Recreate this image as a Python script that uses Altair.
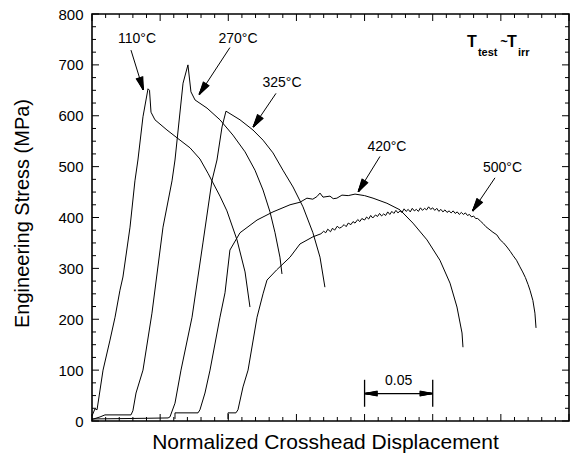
import math
import altair as alt
import pandas as pd

# ---------------- data ----------------
x_110 = [0.0000, 0.0022, 0.0037, 0.0081, 0.0132, 0.0169, 0.0205, 0.0227, 0.0279, 0.0315,
         0.0337, 0.0374, 0.0411, 0.0422, 0.0433, 0.0462, 0.0550, 0.0646, 0.0719, 0.0792,
         0.0851, 0.0888, 0.0939, 0.0990, 0.1064, 0.1123, 0.1159]
y_110 = [10, 24, 22, 100, 159, 204, 257, 283, 381, 472,
         513, 598, 653, 650, 607, 592, 572, 552, 537, 515,
         487, 468, 442, 413, 356, 293, 224]

x_270 = [0.0000, 0.0059, 0.0095, 0.0286, 0.0300, 0.0323, 0.0374, 0.0440, 0.0521, 0.0587,
         0.0609, 0.0668, 0.0704, 0.0726, 0.0756, 0.0844, 0.0939, 0.1034, 0.1123, 0.1196,
         0.1255, 0.1306, 0.1343, 0.1379, 0.1394]
y_270 = [3, 8, 12, 12, 20, 55, 100, 212, 381, 472,
         513, 664, 700, 647, 631, 615, 592, 562, 529, 493,
         454, 411, 370, 322, 289]

x_325 = [0.0000, 0.0300, 0.0558, 0.0572, 0.0609, 0.0653, 0.0734, 0.0814, 0.0880, 0.0917,
         0.0954, 0.0983, 0.1086, 0.1181, 0.1255, 0.1328, 0.1401, 0.1475, 0.1548, 0.1621,
         0.1673, 0.1709]
y_325 = [4, 5, 6, 8, 35, 100, 204, 350, 472, 513,
         578, 609, 592, 572, 552, 527, 493, 460, 421, 370,
         322, 263]

x_420 = [0.0609, 0.0609, 0.0778, 0.0792, 0.0829, 0.0866, 0.0939, 0.0976, 0.1012, 0.1086,
         0.1211, 0.1328, 0.1453, 0.1526, 0.1577, 0.1620, 0.1650, 0.1673, 0.1695, 0.1746,
         0.1770, 0.1797, 0.1834, 0.1880, 0.1930, 0.2000, 0.2062, 0.2164, 0.2260, 0.2355,
         0.2458, 0.2553, 0.2627, 0.2678, 0.2715, 0.2722]
y_420 = [4, 16, 16, 22, 55, 100, 204, 252, 336, 370,
         395, 411, 425, 430, 438, 436, 441, 448, 440, 442,
         437, 438, 444, 443, 446, 443, 438, 428, 415, 389,
         356, 316, 271, 224, 173, 145]

x_500 = [0.0998, 0.0998, 0.1056, 0.1071, 0.1108, 0.1145, 0.1211, 0.1255, 0.1284, 0.1355,
         0.1453, 0.1526, 0.1621, 0.1680, 0.1700, 0.1715, 0.1730, 0.1750, 0.1765, 0.1780,
         0.1800, 0.1815, 0.1830, 0.1850, 0.1865, 0.1880, 0.1900, 0.1915, 0.1930, 0.1950,
         0.1965, 0.1980, 0.2000, 0.2015, 0.2030, 0.2045, 0.2060, 0.2080, 0.2095, 0.2110,
         0.2125, 0.2140, 0.2155, 0.2170, 0.2185, 0.2200, 0.2215, 0.2230, 0.2245, 0.2260,
         0.2275, 0.2290, 0.2305, 0.2320, 0.2335, 0.2350, 0.2365, 0.2380, 0.2395, 0.2410,
         0.2425, 0.2440, 0.2455, 0.2470, 0.2485, 0.2500, 0.2515, 0.2530, 0.2545, 0.2560,
         0.2575, 0.2590, 0.2605, 0.2620, 0.2635, 0.2650, 0.2665, 0.2680, 0.2695, 0.2710,
         0.2725, 0.2740, 0.2755, 0.2770, 0.2785, 0.2800, 0.2815, 0.2830, 0.2850, 0.2870,
         0.2890, 0.2942, 0.2970, 0.2995, 0.3020, 0.3045, 0.3070, 0.3090, 0.3115, 0.3140,
         0.3160, 0.3180, 0.3200, 0.3214, 0.3235, 0.3250, 0.3258]
y_500 = [4, 16, 16, 22, 67, 100, 204, 250, 277, 297,
         322, 348, 362, 368, 373, 370, 377, 372, 379, 375,
         383, 379, 381, 386, 382, 389, 386, 392, 389, 396,
         392, 398, 395, 401, 397, 404, 399, 405, 402, 408,
         403, 407, 404, 411, 406, 412, 408, 414, 409, 413,
         410, 417, 412, 416, 411, 418, 413, 416, 412, 419,
         414, 418, 415, 421, 416, 419, 414, 418, 412, 416,
         411, 415, 410, 413, 409, 413, 408, 411, 406, 410,
         406, 409, 404, 406, 401, 403, 398, 398, 393, 388,
         382, 371, 366, 356, 350, 342, 333, 325, 316, 303,
         293, 282, 268, 257, 237, 212, 183]

temps = ["110°C", "270°C", "325°C", "420°C", "500°C"]
series_x = [x_110, x_270, x_325, x_420, x_500]
series_y = [y_110, y_270, y_325, y_420, y_500]

# annotation labels (data coordinates) and arrows (start -> tip)
label_x = [0.0330, 0.1071, 0.1394, 0.2164, 0.3012]
label_y = [751, 751, 664, 539, 497]
arrow_x0 = [0.0286, 0.1012, 0.1350, 0.2113, 0.2957]
arrow_y0 = [729, 734, 644, 520, 478]
arrow_x1 = [0.0376, 0.0787, 0.1183, 0.1954, 0.2793]
arrow_y1 = [651, 642, 578, 451, 413]

# scale bar
bar_x = [0.20, 0.25]
bar_y = [28, 81]
bar_arrow_y = 54
bar_label = "0.05"

# axis ticks
y_major = list(range(0, 801, 100))
y_minor = [v for v in range(0, 801, 25) if v % 100 != 0]
x_major = [round(0.05 * i, 2) for i in range(0, 8)]
x_minor = [round(0.01 * i, 2) for i in range(0, 36) if i % 5 != 0]

# ---------------- layout ----------------
W, H = 477, 407
XMAX, YMAX = 0.35, 800
FONT = "Liberation Sans"

rows = []
for t, xs_, ys_ in zip(temps, series_x, series_y):
    for i, (a, b) in enumerate(zip(xs_, ys_)):
        rows.append({"temp": t, "i": i, "x": a, "y": b})
curves = pd.DataFrame(rows)

xs = alt.Scale(domain=[0, XMAX], nice=False, zero=False)
ys = alt.Scale(domain=[0, YMAX], nice=False, zero=False)

main = alt.Chart(curves).mark_line(color="black", strokeWidth=1).encode(
    x=alt.X("x:Q", scale=xs, axis=alt.Axis(
        title="Normalized Crosshead Displacement", labels=False, ticks=False,
        domain=False, grid=False, titleFont=FONT, titleFontSize=21,
        titleFontWeight="normal", titleColor="black", titleAlign="center",
        titleBaseline="alphabetic", titleY=27, titleX=233)),
    y=alt.Y("y:Q", scale=ys, axis=alt.Axis(
        title="Engineering Stress (MPa)", values=y_major, ticks=False,
        domain=False, grid=False, labelFont=FONT, labelFontSize=15,
        labelColor="black", labelPadding=9, titleFont=FONT, titleFontSize=20,
        titleFontWeight="normal", titleColor="black", titleX=-60, titleY=199)),
    detail="temp:N",
    order="i:Q",
)


def X(f):
    return alt.X(f, scale=xs)


def Y(f):
    return alt.Y(f, scale=ys)


def yticks(vals, length, side):
    d = pd.DataFrame({"y": vals})
    if side == "left":
        xx = dict(x=alt.value(0), x2=alt.value(length))
    else:
        xx = dict(x=alt.value(W), x2=alt.value(W - length))
    return alt.Chart(d).mark_rule(color="black", strokeWidth=1).encode(y=Y("y:Q"), **xx)


def xticks(vals, length, side):
    d = pd.DataFrame({"x": vals})
    if side == "bottom":
        yy = dict(y=alt.value(H), y2=alt.value(H - length))
    else:
        yy = dict(y=alt.value(0), y2=alt.value(length))
    return alt.Chart(d).mark_rule(color="black", strokeWidth=1).encode(x=X("x:Q"), **yy)


tick_layers = [
    yticks(y_major, 7, "left"), yticks(y_minor, 4, "left"),
    yticks(y_major, 7, "right"), yticks(y_minor, 4, "right"),
    xticks(x_major, 7, "bottom"), xticks(x_minor, 4, "bottom"),
    xticks(x_major, 7, "top"), xticks(x_minor, 4, "top"),
]

# annotation labels
ann = pd.DataFrame({"x": label_x, "y": label_y, "t": temps})
labels = alt.Chart(ann).mark_text(font=FONT, fontSize=14, color="black",
                                  align="center", baseline="middle").encode(
    x=X("x:Q"), y=Y("y:Q"), text="t:N")

# arrow shafts
arr = pd.DataFrame({"x": arrow_x0, "y": arrow_y0, "x1": arrow_x1, "y1": arrow_y1})
shafts = alt.Chart(arr).mark_rule(color="black", strokeWidth=1).encode(
    x=X("x:Q"), y=Y("y:Q"), x2="x1:Q", y2="y1:Q")


# arrow heads: a dense fan of strokes from the tip to the base -> solid triangle
def head_rows(x0, y0, x1, y1, length, width, n=13):
    sx, sy = W / XMAX, H / YMAX          # pixels per data unit
    dx, dy = (x1 - x0) * sx, (y1 - y0) * sy
    d = math.hypot(dx, dy)
    ux, uy = dx / d, dy / d
    bx, by = x1 * sx - length * ux, y1 * sy - length * uy
    nx, ny = -uy, ux
    out = []
    for k in range(n):
        off = -width / 2 + width * k / (n - 1)
        out.append({"x": x1, "y": y1,
                    "x1": (bx + off * nx) / sx, "y1": (by + off * ny) / sy})
    return out


hrows = []
for j in range(len(arrow_x0)):
    hrows += head_rows(arrow_x0[j], arrow_y0[j], arrow_x1[j], arrow_y1[j], 13, 7)
hrows += head_rows(sum(bar_x) / 2, bar_arrow_y, bar_x[0], bar_arrow_y, 13, 5)
hrows += head_rows(sum(bar_x) / 2, bar_arrow_y, bar_x[1], bar_arrow_y, 13, 5)
heads = alt.Chart(pd.DataFrame(hrows)).mark_rule(color="black", strokeWidth=1.1).encode(
    x=X("x:Q"), y=Y("y:Q"), x2="x1:Q", y2="y1:Q")

# scale bar
bars = pd.DataFrame({"x": bar_x, "y": [bar_y[0]] * 2, "y1": [bar_y[1]] * 2})
bar_v = alt.Chart(bars).mark_rule(color="black", strokeWidth=1.3).encode(
    x=X("x:Q"), y=Y("y:Q"), y2="y1:Q")
bar_h_df = pd.DataFrame({"x": [bar_x[0]], "x1": [bar_x[1]], "y": [bar_arrow_y]})
bar_h = alt.Chart(bar_h_df).mark_rule(color="black", strokeWidth=1.3).encode(
    x=X("x:Q"), x2="x1:Q", y=Y("y:Q"))
bar_txt_df = pd.DataFrame({"x": [sum(bar_x) / 2], "y": [78], "t": [bar_label]})
bar_txt = alt.Chart(bar_txt_df).mark_text(font=FONT, fontSize=14, color="black",
                                          baseline="middle").encode(
    x=X("x:Q"), y=Y("y:Q"), text="t:N")

# T_test ~ T_irr
big_df = pd.DataFrame({"x": [0.2751, 0.3045], "y": [736, 736], "t": ["T", "T"]})
sub_df = pd.DataFrame({"x": [0.2832, 0.3126], "y": [717, 717], "t": ["test", "irr"]})
tilde_df = pd.DataFrame({"x": [0.3023], "y": [744], "t": ["~"]})
big = alt.Chart(big_df).mark_text(font=FONT, fontSize=16, fontWeight="bold", color="black",
                                  align="left", baseline="alphabetic").encode(
    x=X("x:Q"), y=Y("y:Q"), text="t:N")
sub = alt.Chart(sub_df).mark_text(font=FONT, fontSize=11, fontWeight="bold", color="black",
                                  align="left", baseline="alphabetic").encode(
    x=X("x:Q"), y=Y("y:Q"), text="t:N")
tilde = alt.Chart(tilde_df).mark_text(font=FONT, fontSize=13, fontWeight="bold", color="black",
                                      align="center", baseline="middle").encode(
    x=X("x:Q"), y=Y("y:Q"), text="t:N")

chart = alt.layer(
    main, *tick_layers, labels, shafts, heads, bar_v, bar_h, bar_txt,
    big, sub, tilde
).properties(
    width=W, height=H,
    autosize=alt.AutoSizeParams(type="none"),
    padding={"left": 92, "top": 14, "right": 4, "bottom": 39},
    background="white",
).configure_view(stroke="black", strokeWidth=1.6)

chart.save("out.html", embed_options={"renderer": "svg", "actions": False})
